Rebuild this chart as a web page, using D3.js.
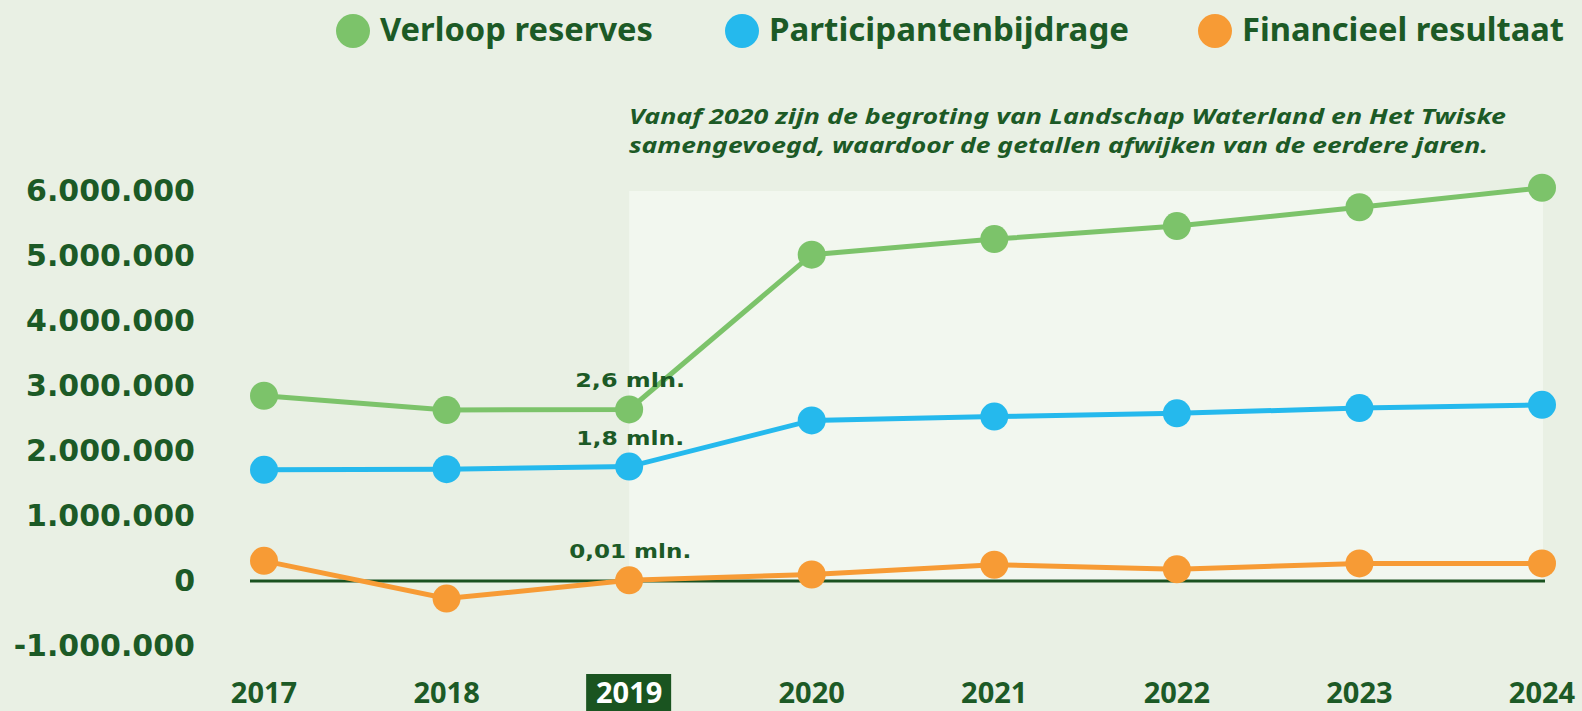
<!DOCTYPE html>
<html>
<head>
<meta charset="utf-8">
<script src="https://cdn.jsdelivr.net/npm/d3@7"></script>
<style>
  html, body { margin: 0; padding: 0; background: #e9f0e4; }
  svg { display: block; }
</style>
</head>
<body>
<div id="grafiek"></div>
<script>
// Jaren en reeksen (waarden in euro's)
const jaren = ["2017", "2018", "2019", "2020", "2021", "2022", "2023", "2024"];
const verloopReserves = [2850000, 2630000, 2640000, 5020000, 5260000, 5460000, 5750000, 6050000];
const participantenbijdrage = [1710000, 1720000, 1760000, 2470000, 2530000, 2580000, 2660000, 2710000];
const financieelResultaat = [310000, -270000, 10000, 100000, 250000, 180000, 270000, 270000];
const yTicks = [-1000000, 0, 1000000, 2000000, 3000000, 4000000, 5000000, 6000000];
const reeksNamen = ["Verloop reserves", "Participantenbijdrage", "Financieel resultaat"];
const labels2019 = ["2,6 mln.", "1,8 mln.", "0,01 mln."];

const kleuren = ["#7cc36a", "#25b9ed", "#f79b35"];
const donkerGroen = "#1c5a26";

const width = 1582, height = 711;
const svg = d3.select("#grafiek").append("svg")
  .attr("width", width)
  .attr("height", height);

const x = d3.scalePoint().domain(jaren).range([264, 1542]);
const y = d3.scaleLinear().domain([-1000000, 6000000]).range([646, 191]);

// Lichter vlak vanaf 2019
svg.append("rect")
  .attr("x", x("2019"))
  .attr("y", y(6000000))
  .attr("width", x("2024") - x("2019") + 1)
  .attr("height", y(0) - y(6000000))
  .attr("fill", "#f2f7ef");

// Y-as labels (punt als duizendtal-scheiding, gewoon minteken)
const fmt = v => (v < 0 ? "-" : "") + d3.format(",")(Math.abs(v)).replace(/,/g, ".");
svg.append("g")
  .selectAll("text")
  .data(yTicks)
  .join("text")
  .attr("x", 195)
  .attr("y", d => y(d) + 10)
  .attr("text-anchor", "end")
  .attr("font-family", "DejaVu Sans")
  .attr("font-weight", "bold")
  .attr("font-size", 30)
  .attr("fill", donkerGroen)
  .text(fmt);

// Nullijn
svg.append("line")
  .attr("x1", 250).attr("x2", x("2024") + 3)
  .attr("y1", y(0)).attr("y2", y(0))
  .attr("stroke", "#1a5220")
  .attr("stroke-width", 3);

// X-as labels met gemarkeerd 2019
svg.append("rect")
  .attr("x", x("2019") - 43)
  .attr("y", 674)
  .attr("width", 85)
  .attr("height", 40)
  .attr("fill", "#1a5420");

svg.append("g")
  .selectAll("text")
  .data(jaren)
  .join("text")
  .attr("x", d => x(d))
  .attr("y", 703)
  .attr("text-anchor", "middle")
  .attr("font-family", "Noto Sans")
  .attr("font-weight", "bold")
  .attr("font-size", 29)
  .attr("fill", d => d === "2019" ? "#ffffff" : donkerGroen)
  .text(d => d);

// Lijnen en punten
const reeksen = [verloopReserves, participantenbijdrage, financieelResultaat];
const lijn = d3.line()
  .x((d, i) => x(jaren[i]))
  .y(d => y(d));

reeksen.forEach((waarden, k) => {
  svg.append("path")
    .datum(waarden)
    .attr("d", lijn)
    .attr("fill", "none")
    .attr("stroke", kleuren[k])
    .attr("stroke-width", 5);

  svg.append("g")
    .selectAll("circle")
    .data(waarden)
    .join("circle")
    .attr("cx", (d, i) => x(jaren[i]))
    .attr("cy", d => y(d))
    .attr("r", 14)
    .attr("fill", kleuren[k]);
});

// Labels bij 2019
const labelBreedte = [110, 108, 122];
svg.append("g")
  .selectAll("text")
  .data(labels2019)
  .join("text")
  .attr("x", x("2019") + 1)
  .attr("y", (d, i) => y(reeksen[i][2]) - 22)
  .attr("text-anchor", "middle")
  .attr("font-family", "DejaVu Sans")
  .attr("font-weight", "bold")
  .attr("font-size", 20)
  .attr("textLength", (d, i) => labelBreedte[i])
  .attr("lengthAdjust", "spacingAndGlyphs")
  .attr("fill", donkerGroen)
  .text(d => d);

// Legenda
const legendaX = [353, 742, 1215];
const legendaBreedte = [273, 360, 322];
const legenda = svg.append("g");
legenda.selectAll("circle")
  .data(reeksNamen)
  .join("circle")
  .attr("cx", (d, i) => legendaX[i])
  .attr("cy", 31)
  .attr("r", 17)
  .attr("fill", (d, i) => kleuren[i]);
legenda.selectAll("text")
  .data(reeksNamen)
  .join("text")
  .attr("x", (d, i) => legendaX[i] + 27)
  .attr("y", 41)
  .attr("font-family", "Noto Sans")
  .attr("font-weight", "bold")
  .attr("font-size", 32)
  .attr("textLength", (d, i) => legendaBreedte[i])
  .attr("lengthAdjust", "spacingAndGlyphs")
  .attr("fill", donkerGroen)
  .text(d => d);

// Toelichting
const toelichting = [
  "Vanaf 2020 zijn de begroting van Landschap Waterland en Het Twiske",
  "samengevoegd, waardoor de getallen afwijken van de eerdere jaren."
];
const toelichtingBreedte = [877, 859];
svg.append("g")
  .selectAll("text")
  .data(toelichting)
  .join("text")
  .attr("x", 629)
  .attr("y", (d, i) => 124 + i * 29)
  .attr("font-family", "Noto Sans")
  .attr("font-style", "italic")
  .attr("font-weight", "bold")
  .attr("font-size", 22)
  .attr("textLength", (d, i) => toelichtingBreedte[i])
  .attr("lengthAdjust", "spacingAndGlyphs")
  .attr("fill", donkerGroen)
  .text(d => d);
</script>
</body>
</html>
